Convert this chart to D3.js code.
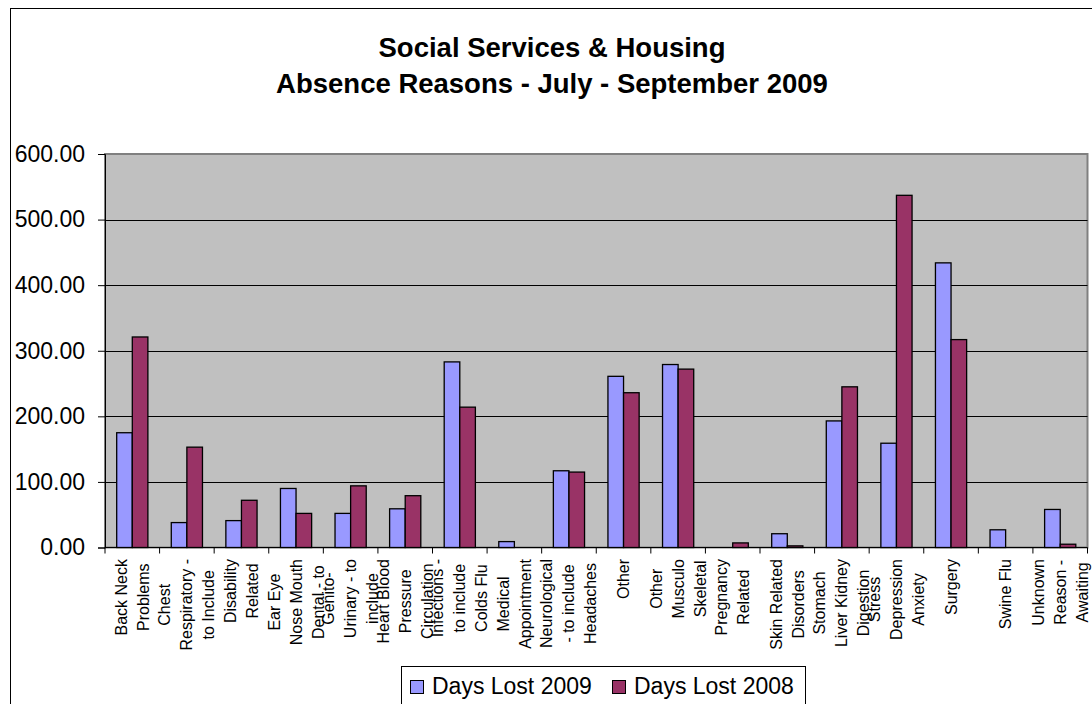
<!DOCTYPE html>
<html>
<head>
<meta charset="utf-8">
<script src="https://cdn.jsdelivr.net/npm/d3@7"></script>
<style>
  html, body { margin: 0; padding: 0; background: #ffffff; }
  svg { display: block; }
  text { font-family: "Liberation Sans", Arial, sans-serif; fill: #000; }
</style>
</head>
<body>
<svg id="chart" width="1092" height="704"></svg>
<script>
// Absence reasons (each entry is one wrapped label, one string per line)
const categories = [
  ["Back Neck", "Problems"],
  ["Chest", "Respiratory -", "to Include"],
  ["Disability", "Related"],
  ["Ear Eye", "Nose Mouth", "Dental - to"],
  ["Genito-", "Urinary - to", "include"],
  ["Heart Blood", "Pressure", "Circulation"],
  ["Infections -", "to include", "Colds Flu"],
  ["Medical", "Appointment"],
  ["Neurological", "- to include", "Headaches"],
  ["Other"],
  ["Other", "Musculo", "Skeletal"],
  ["Pregnancy", "Related"],
  ["Skin Related", "Disorders"],
  ["Stomach", "Liver Kidney", "Digestion"],
  ["Stress", "Depression", "Anxiety"],
  ["Surgery"],
  ["Swine Flu"],
  ["Unknown", "Reason -", "Awaiting"]
];

// Days lost per reason
const daysLost2009 = [175, 38, 41, 90, 52, 59, 283, 9, 117, 261, 279, 0, 21, 193, 159, 434, 27, 58];
const daysLost2008 = [321, 153, 72, 52, 94, 79, 214, 0, 115, 236, 272, 7, 2.5, 245, 537, 317, 0, 5];

const seriesNames = ["Days Lost 2009", "Days Lost 2008"];
const seriesColors = ["#9999FF", "#993366"];
const yTicks = [0, 100, 200, 300, 400, 500, 600];
const titleLines = ["Social Services & Housing", "Absence Reasons - July - September 2009"];

const svg = d3.select("#chart");

// chart frame
svg.append("rect")
  .attr("x", 10.5).attr("y", 8.5)
  .attr("width", 1100).attr("height", 720)
  .attr("fill", "#fff").attr("stroke", "#000").attr("stroke-width", 1);

const plot = { left: 105, right: 1087.5, top: 154, bottom: 547.5 };

const x0 = d3.scaleBand()
  .domain(d3.range(categories.length))
  .range([plot.left, plot.right])
  .paddingInner(0).paddingOuter(0);

const x1 = d3.scaleBand()
  .domain([0, 1])
  .range([0, x0.bandwidth()])
  .paddingInner(0).paddingOuter(0.75);

const y = d3.scaleLinear()
  .domain([0, 600])
  .range([plot.bottom, plot.top]);

// plot background
svg.append("rect")
  .attr("x", plot.left).attr("y", plot.top)
  .attr("width", plot.right - plot.left).attr("height", plot.bottom - plot.top)
  .attr("fill", "#C0C0C0").attr("stroke", "#808080").attr("stroke-width", 2);

// gridlines
svg.append("g")
  .selectAll("line")
  .data(yTicks.filter(v => v > 0 && v < 600))
  .join("line")
  .attr("x1", plot.left).attr("x2", plot.right)
  .attr("y1", d => Math.round(y(d)) + 0.5).attr("y2", d => Math.round(y(d)) + 0.5)
  .attr("stroke", "#000").attr("stroke-width", 1);

// bars
const series = [daysLost2009, daysLost2008];
const barData = [];
categories.forEach((c, i) => {
  series.forEach((s, k) => {
    if (s[i] > 0) barData.push({ i, k, v: s[i] });
  });
});

svg.append("g")
  .selectAll("rect")
  .data(barData)
  .join("rect")
  .attr("x", d => x0(d.i) + x1(d.k))
  .attr("y", d => y(d.v))
  .attr("width", x1.bandwidth())
  .attr("height", d => y(0) - y(d.v))
  .attr("fill", d => seriesColors[d.k])
  .attr("stroke", "#000").attr("stroke-width", 1.3);

// y axis
const yAxis = svg.append("g")
  .attr("transform", `translate(${plot.left},0)`)
  .call(d3.axisLeft(y).tickValues(yTicks).tickFormat(d3.format(".2f")).tickSize(7).tickPadding(13));
yAxis.select(".domain").attr("stroke", "#000");
yAxis.selectAll(".tick line").attr("stroke", "#000");
yAxis.selectAll(".tick text")
  .attr("font-family", "Liberation Sans, Arial, sans-serif")
  .attr("font-size", 23).attr("fill", "#000");

// x axis line and category ticks
const xAxis = svg.append("g")
  .attr("transform", `translate(0,${plot.bottom})`);
xAxis.append("line")
  .attr("x1", plot.left).attr("x2", plot.right)
  .attr("y1", 0).attr("y2", 0)
  .attr("stroke", "#000");
xAxis.selectAll("line.tick")
  .data(d3.range(categories.length + 1))
  .join("line")
  .attr("class", "tick")
  .attr("x1", d => d < categories.length ? x0(d) : plot.right)
  .attr("x2", d => d < categories.length ? x0(d) : plot.right)
  .attr("y1", 0).attr("y2", 6)
  .attr("stroke", "#000");

// wrapped, rotated category labels
const labelTop = 559;
const lineGap = 22;
const labelSize = 16;
const labelGroups = svg.append("g")
  .selectAll("g")
  .data(categories)
  .join("g");

labelGroups.each(function (lines, i) {
  const g = d3.select(this);
  const cx = x0(i) + x0.bandwidth() / 2;
  // measure the longest line so the block hangs from the axis
  const tmp = g.selectAll("text.m").data(lines).join("text")
    .attr("class", "m").attr("font-size", labelSize).text(d => d);
  let maxLen = 0;
  tmp.each(function () { maxLen = Math.max(maxLen, this.getComputedTextLength()); });
  tmp.remove();
  const cy = labelTop + maxLen / 2;
  const n = lines.length;
  g.selectAll("text")
    .data(lines)
    .join("text")
    .attr("font-size", labelSize)
    .attr("text-anchor", "middle")
    .attr("dominant-baseline", "central")
    .attr("transform", (d, j) => `translate(${cx + (j - (n - 1) / 2) * lineGap},${cy}) rotate(-90)`)
    .text(d => d);
});

// title
svg.append("g")
  .selectAll("text")
  .data(titleLines)
  .join("text")
  .attr("x", 552)
  .attr("y", (d, i) => 57 + i * 36)
  .attr("text-anchor", "middle")
  .attr("font-weight", "bold")
  .attr("font-size", 27.5)
  .text(d => d);

// legend
const legend = svg.append("g");
legend.append("rect")
  .attr("x", 401.5).attr("y", 666.5)
  .attr("width", 404).attr("height", 50)
  .attr("fill", "#fff").attr("stroke", "#000");
const legendX = [410, 612];
const items = legend.selectAll("g.item")
  .data(seriesNames)
  .join("g")
  .attr("class", "item")
  .attr("transform", (d, i) => `translate(${legendX[i]},0)`);
items.append("rect")
  .attr("x", 0.5).attr("y", 680.5)
  .attr("width", 13).attr("height", 13)
  .attr("fill", (d, i) => seriesColors[i])
  .attr("stroke", "#000");
items.append("text")
  .attr("x", 22).attr("y", 694)
  .attr("font-size", 23)
  .text(d => d);
</script>
</body>
</html>
